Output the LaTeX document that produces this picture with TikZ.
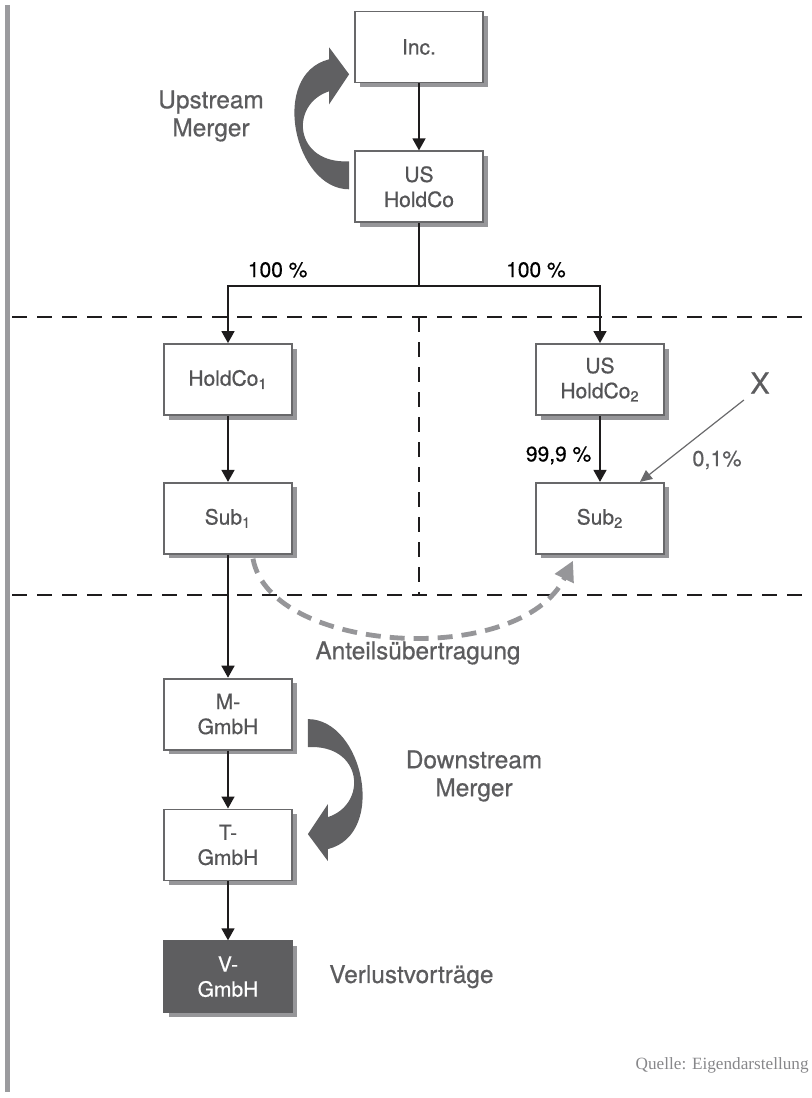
\documentclass[tikz,border=0pt]{standalone}
\usepackage{fontspec}
\setmainfont{TeX Gyre Heros}[FakeBold=0.6]
\newfontfamily\quellefont{Liberation Serif}
\usepackage{xcolor}
\usepackage{tikz}
\usetikzlibrary{arrows.meta,positioning,shadows}

\begin{document}
\begin{tikzpicture}[
  node distance=30pt,
  eBox/.style={rectangle, minimum width=64pt, minimum height=35.5pt,
    align=center, inner sep=2pt, fill=white,
    draw={rgb,255:red,104;green,104;blue,106}, line width=0.9pt,
    text={rgb,255:red,84;green,84;blue,86},
    font=\fontsize{10.5}{12.5}\selectfont,
    drop shadow={shadow xshift=2.3pt, shadow yshift=-2.3pt,
      fill={rgb,255:red,150;green,150;blue,153}, opacity=1}},
  eDark/.style={eBox, fill={rgb,255:red,94;green,94;blue,96},
    draw={rgb,255:red,94;green,94;blue,96}, text=white},
  eLbl/.style={inner sep=0pt, align=center,
    text={rgb,255:red,92;green,92;blue,94},
    font=\fontsize{12.2}{14}\selectfont},
  ePct/.style={inner sep=0pt, text=black,
    font=\fontsize{10.5}{12.5}\selectfont},
  earr/.style={-{Triangle[length=6pt,width=6.5pt]},
    line width=0.75pt,
    color={rgb,255:red,30;green,28;blue,29}},
  eSep/.style={dash pattern=on 7.5pt off 5pt, line width=0.9pt,
    color={rgb,255:red,30;green,28;blue,29}},
  eTrans/.style={-{Triangle[length=10pt,width=10pt]},
    dash pattern=on 7.5pt off 4.5pt, line width=2.4pt,
    color={rgb,255:red,150;green,150;blue,153}},
  eThin/.style={-{Triangle[length=6pt,width=5.5pt]},
    line width=0.6pt,
    color={rgb,255:red,105;green,105;blue,107}},
  eFat/.style={fill={rgb,255:red,96;green,96;blue,98}},
  eRule/.style={fill={rgb,255:red,155;green,155;blue,158}},
]
  \useasboundingbox (0,0) rectangle (405.5pt,-549pt);

  %% -- Page rule and separators ---------------------------------
  \fill[eRule] (2.5pt,-2.5pt) rectangle (5pt,-546pt);
  \draw[eSep] (6pt,-158.5pt) -- (405.5pt,-158.5pt);
  \draw[eSep] (6pt,-297.5pt) -- (405.5pt,-297.5pt);
  \draw[eSep] (209.5pt,-158.5pt) -- (209.5pt,-297.5pt);

  %% -- Group structure -------------------------------------------
  \node[eBox] (inc) at (209.5pt,-23.5pt) {Inc.};
  \node[eBox, below=33.5pt of inc] (ushold) {US\\HoldCo};

  \node[eBox] (holdone) at (114pt,-189.75pt) {HoldCo\textsubscript{1}};
  \node[eBox] (holdtwo) at (300pt,-189.75pt) {US\\HoldCo\textsubscript{2}};
  \node[eBox, below=33pt of holdone] (subone) {Sub\textsubscript{1}};
  \node[eBox, below=33pt of holdtwo] (subtwo) {Sub\textsubscript{2}};

  \node[eBox, below=61.5pt of subone] (mgmbh) {M-\\GmbH};
  \node[eBox, below=29pt of mgmbh] (tgmbh) {T-\\GmbH};
  \node[eDark, below=29.5pt of tgmbh] (vgmbh) {V-\\GmbH};

  %% -- Labels ----------------------------------------------------
  \node[eLbl] (upmerge) at (105.5pt,-58pt) {Upstream\\Merger};
  \node[eLbl] (downmerge) at (237pt,-388pt) {Downstream\\Merger};
  \node[eLbl] (transfer) at (209pt,-326.5pt) {Anteilsübertragung};
  \node[eLbl, right=18pt of vgmbh] (losses) {Verlustvorträge};
  \node[eLbl, inner sep=3pt, font=\fontsize{14.5}{16}\selectfont]
    (xholder) at (380pt,-191.5pt) {X};
  \node[eLbl, font=\fontsize{10.8}{12.5}\selectfont]
    (xshare) at (358.5pt,-230pt) {0,1\%};
  \node[anchor=east, inner sep=0pt,
    text={rgb,255:red,135;green,135;blue,138},
    font=\quellefont\fontsize{8.6}{10}\selectfont]
    (source) at (404.5pt,-532.5pt) {Quelle: Eigendarstellung};

  %% -- Ownership arrows ------------------------------------------
  \draw[earr] (inc) -- (ushold);
  \coordinate (split) at ([yshift=-31.5pt]ushold.south);
  \draw[earr] (ushold.south) -- (split)
    -| node[ePct, pos=0.37, above=4pt] {100 \%} (holdone.north);
  \draw[earr] (split)
    -| node[ePct, pos=0.323, above=4pt] {100 \%} (holdtwo.north);
  \draw[earr] (holdtwo) -- node[ePct, pos=0.6, left=4pt] {99,9 \%} (subtwo);
  \foreach \f/\t in {holdone/subone, subone/mgmbh, mgmbh/tgmbh, tgmbh/vgmbh}
    \draw[earr] (\f) -- (\t);
  \draw[eThin] (xholder.south west) -- ([xshift=20pt]subtwo.north);

  %% -- Share transfer --------------------------------------------
  \draw[eTrans] ([xshift=12.5pt,yshift=-2pt]subone.south)
    .. controls +(8.5pt,-47.5pt) and +(-26.5pt,-54pt)
    .. ([xshift=-13.5pt,yshift=-3pt]subtwo.south);

  %% -- Merger arrows ---------------------------------------------
  \fill[eFat, shift={([xshift=-2.5pt,yshift=5.75pt]ushold.west)}, rotate=180]
    (0pt,7pt) .. controls (27.5pt,7pt) and (40pt,-50.5pt) .. (10pt,-58pt)
    -- (10pt,-64pt) -- (0pt,-50.5pt) -- (10pt,-35.5pt) -- (10pt,-42pt)
    .. controls (30pt,-35.5pt) and (27.5pt,-5.5pt) .. (0pt,-7pt) -- cycle;
  \fill[eFat, shift={([xshift=7.5pt,yshift=-9.5pt]mgmbh.east)}]
    (0pt,7pt) .. controls (27.5pt,7pt) and (40pt,-50.5pt) .. (10pt,-58pt)
    -- (10pt,-64pt) -- (0pt,-50.5pt) -- (10pt,-35.5pt) -- (10pt,-42pt)
    .. controls (30pt,-35.5pt) and (27.5pt,-5.5pt) .. (0pt,-7pt) -- cycle;

\end{tikzpicture}
\end{document}
